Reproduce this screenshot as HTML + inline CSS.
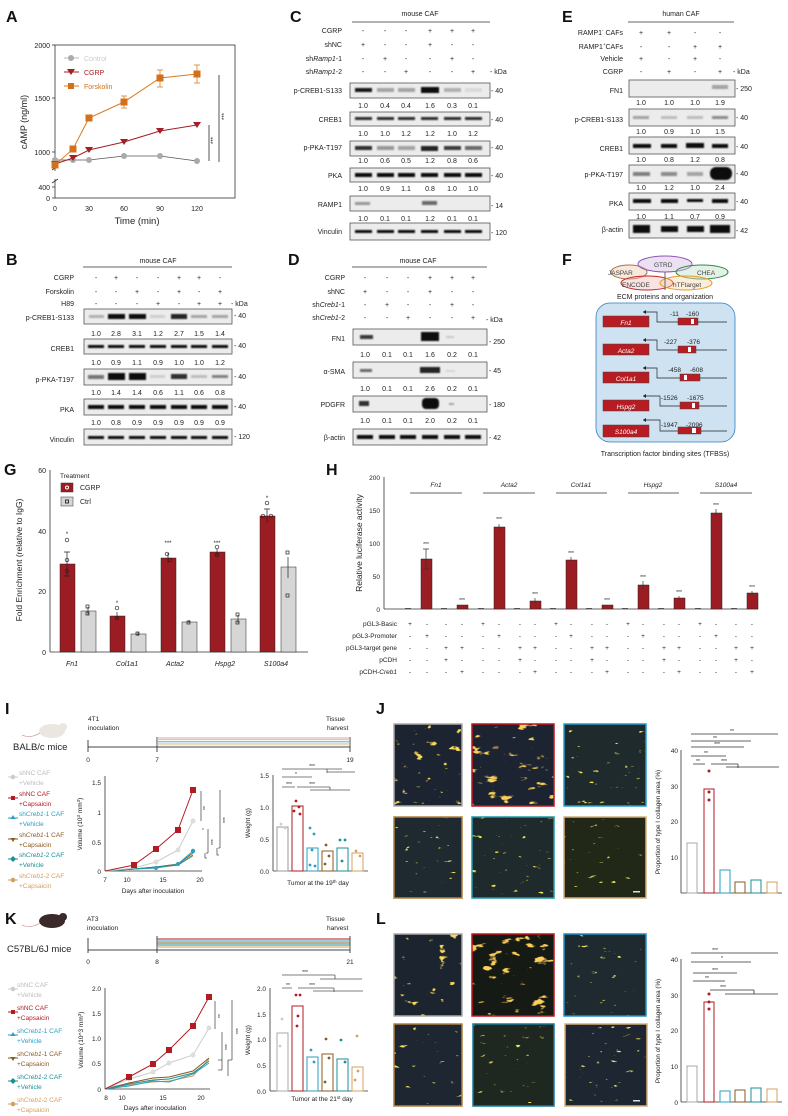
<!DOCTYPE html>
<html><head><meta charset="utf-8"><style>
html,body{margin:0;padding:0;background:#fff}
svg{display:block;font-family:"Liberation Sans",sans-serif}
</style></head><body>
<svg width="788" height="1116" viewBox="0 0 788 1116" xmlns="http://www.w3.org/2000/svg" font-size="7" fill="#222">
<defs>
<filter id="bl" x="-20%" y="-50%" width="140%" height="200%"><feGaussianBlur stdDeviation="0.9"/></filter>
<filter id="fs" x="0" y="0" width="100%" height="100%"><feTurbulence type="fractalNoise" baseFrequency="0.06 0.14" numOctaves="3" seed="4"/><feColorMatrix type="matrix" values="0 0 0 0 1  0 0 0 0 0.62  0 0 0 0 0.1  12 0 0 0 -7.8"/></filter>
<filter id="fm" x="0" y="0" width="100%" height="100%"><feTurbulence type="fractalNoise" baseFrequency="0.08 0.15" numOctaves="3" seed="9"/><feColorMatrix type="matrix" values="0 0 0 0 0.95  0 0 0 0 0.7  0 0 0 0 0.1  12 0 0 0 -8.3"/></filter>
<filter id="fw" x="0" y="0" width="100%" height="100%"><feTurbulence type="fractalNoise" baseFrequency="0.09 0.2" numOctaves="3" seed="2"/><feColorMatrix type="matrix" values="0 0 0 0 0.9  0 0 0 0 0.8  0 0 0 0 0.1  12 0 0 0 -8.9"/></filter>
</defs>
<g font-weight="bold" font-size="16" fill="#111">
<text x="6" y="22">A</text><text x="290" y="22">C</text><text x="562" y="22">E</text>
<text x="6" y="265">B</text><text x="288" y="265">D</text><text x="562" y="265">F</text>
<text x="4" y="475">G</text><text x="326" y="475">H</text>
<text x="5" y="714">I</text><text x="376" y="714">J</text>
<text x="5" y="924">K</text><text x="376" y="924">L</text>
</g>

<!-- Panel A -->
<g>
<rect x="55" y="45" width="180" height="153" fill="none" stroke="#333" stroke-width="0.8"/>
<g font-size="7" text-anchor="end"><text x="50" y="48">2000</text><text x="50" y="101">1500</text><text x="50" y="155">1000</text><text x="50" y="190">400</text><text x="50" y="201">0</text></g>
<g stroke="#333" stroke-width="0.8"><line x1="52" y1="45" x2="55" y2="45"/><line x1="52" y1="98" x2="55" y2="98"/><line x1="52" y1="152" x2="55" y2="152"/><line x1="52" y1="187" x2="55" y2="187"/><line x1="52" y1="198" x2="55" y2="198"/><line x1="52" y1="170" x2="58" y2="166"/><line x1="52" y1="183" x2="58" y2="179"/></g>
<rect x="53" y="171" width="4" height="8" fill="#fff"/>
<g font-size="7" text-anchor="middle"><text x="55" y="211">0</text><text x="89" y="211">30</text><text x="124" y="211">60</text><text x="160" y="211">90</text><text x="197" y="211">120</text></g>
<text x="137" y="224" font-size="9.5" text-anchor="middle">Time (min)</text>
<text x="27" y="122" font-size="9" text-anchor="middle" transform="rotate(-90 27 122)">cAMP (ng/ml)</text>
<polyline points="55,160 73,160 89,160 124,156 160,156 197,161" fill="none" stroke="#555" stroke-width="0.8"/>
<g fill="#aaa"><circle cx="55" cy="160" r="3"/><circle cx="73" cy="160" r="3"/><circle cx="89" cy="160" r="3"/><circle cx="124" cy="156" r="3"/><circle cx="160" cy="156" r="3"/><circle cx="197" cy="161" r="3"/></g>
<polyline points="55,164 73,158 89,150 124,142 160,131 197,125" fill="none" stroke="#a31f24" stroke-width="1"/>
<g fill="#a31f24"><path d="M51,161h8l-4,6z"/><path d="M69,155h8l-4,6z"/><path d="M85,147h8l-4,6z"/><path d="M120,139h8l-4,6z"/><path d="M156,128h8l-4,6z"/><path d="M193,122h8l-4,6z"/></g>
<polyline points="55,165 73,149 89,118 124,102 160,78 197,74" fill="none" stroke="#d97b1c" stroke-width="1"/>
<g stroke="#d97b1c" stroke-width="0.8"><line x1="124" y1="96" x2="124" y2="108"/><line x1="160" y1="70" x2="160" y2="87"/><line x1="197" y1="65" x2="197" y2="83"/><line x1="121" y1="96" x2="127" y2="96"/><line x1="121" y1="108" x2="127" y2="108"/><line x1="157" y1="70" x2="163" y2="70"/><line x1="157" y1="87" x2="163" y2="87"/><line x1="194" y1="65" x2="200" y2="65"/><line x1="194" y1="83" x2="200" y2="83"/></g>
<g fill="#d4701a"><rect x="51.5" y="161.5" width="7" height="7"/><rect x="69.5" y="145.5" width="7" height="7"/><rect x="85.5" y="114.5" width="7" height="7"/><rect x="120.5" y="98.5" width="7" height="7"/><rect x="156.5" y="74.5" width="7" height="7"/><rect x="193.5" y="70.5" width="7" height="7"/></g>
<line x1="64" y1="58" x2="79" y2="58" stroke="#bbb"/><circle cx="71" cy="58" r="3" fill="#aaa"/><text x="84" y="61" fill="#ccc">Control</text>
<line x1="64" y1="72" x2="79" y2="72" stroke="#a31f24"/><path d="M67,69h8l-4,6z" fill="#a31f24"/><text x="84" y="75" fill="#a31f24">CGRP</text>
<line x1="64" y1="86" x2="79" y2="86" stroke="#d97b1c"/><rect x="68" y="83" width="6" height="6" fill="#d4701a"/><text x="84" y="89" fill="#d4701a">Forskolin</text>
<line x1="209" y1="125" x2="209" y2="161" stroke="#555"/><line x1="219" y1="75" x2="219" y2="162" stroke="#555"/>
<text x="213" y="146" font-size="6" transform="rotate(-90 213 144)">***</text><text x="224" y="122" font-size="6" transform="rotate(-90 224 120)">***</text>
</g>

<!-- Panel C -->
<g>
<text x="420" y="16" text-anchor="middle">mouse CAF</text><line x1="352" y1="22" x2="490" y2="22" stroke="#333" stroke-width="0.7"/>
<g text-anchor="end"><text x="342" y="33">CGRP</text><text x="342" y="47">shNC</text><text x="342" y="61">sh<tspan font-style="italic">Ramp1</tspan>-1</text><text x="342" y="74">sh<tspan font-style="italic">Ramp1</tspan>-2</text>
<text x="342" y="93">p-CREB1-S133</text><text x="342" y="122">CREB1</text><text x="342" y="150">p-PKA-T197</text><text x="342" y="178">PKA</text><text x="342" y="207">RAMP1</text><text x="342" y="234">Vinculin</text></g>
<g text-anchor="middle">
<text x="363" y="33">-</text><text x="385" y="33">-</text><text x="406" y="33">-</text><text x="430" y="33">+</text><text x="452" y="33">+</text><text x="473" y="33">+</text>
<text x="363" y="47">+</text><text x="385" y="47">-</text><text x="406" y="47">-</text><text x="430" y="47">+</text><text x="452" y="47">-</text><text x="473" y="47">-</text>
<text x="363" y="61">-</text><text x="385" y="61">+</text><text x="406" y="61">-</text><text x="430" y="61">-</text><text x="452" y="61">+</text><text x="473" y="61">-</text>
<text x="363" y="74">-</text><text x="385" y="74">-</text><text x="406" y="74">+</text><text x="430" y="74">-</text><text x="452" y="74">-</text><text x="473" y="74">+</text>
<text x="363" y="108">1.0</text><text x="385" y="108">0.4</text><text x="406" y="108">0.4</text><text x="430" y="108">1.6</text><text x="452" y="108">0.3</text><text x="473" y="108">0.1</text>
<text x="363" y="136">1.0</text><text x="385" y="136">1.0</text><text x="406" y="136">1.2</text><text x="430" y="136">1.2</text><text x="452" y="136">1.0</text><text x="473" y="136">1.2</text>
<text x="363" y="163">1.0</text><text x="385" y="163">0.6</text><text x="406" y="163">0.5</text><text x="430" y="163">1.2</text><text x="452" y="163">0.8</text><text x="473" y="163">0.6</text>
<text x="363" y="191">1.0</text><text x="385" y="191">0.9</text><text x="406" y="191">1.1</text><text x="430" y="191">0.8</text><text x="452" y="191">1.0</text><text x="473" y="191">1.0</text>
<text x="363" y="221">1.0</text><text x="385" y="221">0.1</text><text x="406" y="221">0.1</text><text x="430" y="221">1.2</text><text x="452" y="221">0.1</text><text x="473" y="221">0.1</text>
</g>
<g><text x="490" y="74">- kDa</text><text x="491" y="93">- 40</text><text x="491" y="122">- 40</text><text x="491" y="150">- 40</text><text x="491" y="178">- 40</text><text x="491" y="208">- 14</text><text x="491" y="235">- 120</text></g>
<g fill="#ececec" stroke="#555" stroke-width="0.8"><rect x="350" y="83" width="140" height="15"/><rect x="350" y="112" width="140" height="14"/><rect x="350" y="141" width="140" height="15"/><rect x="350" y="168" width="140" height="14"/><rect x="350" y="196" width="140" height="15"/><rect x="350" y="223" width="140" height="17"/></g>
<g fill="#111" filter="url(#bl)">
<rect x="355" y="88" width="17" height="4" opacity=".95"/><rect x="377" y="88" width="17" height="4" opacity=".3"/><rect x="398" y="88" width="17" height="4" opacity=".3"/><rect x="421" y="87" width="18" height="6" opacity="1"/><rect x="444" y="88" width="17" height="4" opacity=".25"/><rect x="465" y="88" width="17" height="4" opacity=".08"/>
<rect x="355" y="117" width="17" height="3" opacity=".85"/><rect x="377" y="117" width="17" height="3" opacity=".85"/><rect x="398" y="117" width="17" height="3" opacity=".85"/><rect x="421" y="117" width="17" height="3" opacity=".85"/><rect x="444" y="117" width="17" height="3" opacity=".85"/><rect x="465" y="117" width="17" height="3" opacity=".85"/>
<rect x="355" y="146" width="17" height="4" opacity=".85"/><rect x="377" y="146" width="17" height="4" opacity=".4"/><rect x="398" y="146" width="17" height="4" opacity=".35"/><rect x="421" y="146" width="17" height="5" opacity=".9"/><rect x="444" y="146" width="17" height="4" opacity=".8"/><rect x="465" y="146" width="17" height="4" opacity=".6"/>
<rect x="355" y="173" width="17" height="4"/><rect x="377" y="173" width="17" height="4"/><rect x="398" y="173" width="17" height="4"/><rect x="421" y="173" width="17" height="4"/><rect x="444" y="173" width="17" height="4"/><rect x="465" y="173" width="17" height="4"/>
<rect x="355" y="202" width="15" height="3" opacity=".4"/><rect x="422" y="201" width="15" height="4" opacity=".6"/>
<rect x="355" y="230" width="17" height="3"/><rect x="377" y="230" width="17" height="3"/><rect x="398" y="230" width="17" height="3"/><rect x="421" y="230" width="17" height="3"/><rect x="444" y="230" width="17" height="3"/><rect x="465" y="230" width="17" height="3"/>
</g>
</g>

<!-- Panel E -->
<g>
<text x="681" y="16" text-anchor="middle">human CAF</text><line x1="628" y1="22" x2="734" y2="22" stroke="#333" stroke-width="0.7"/>
<g text-anchor="end"><text x="623" y="35">RAMP1<tspan font-size="4.5" dy="-3">-</tspan><tspan dy="3"> CAFs</tspan></text><text x="623" y="49">RAMP1<tspan font-size="4.5" dy="-3">+</tspan><tspan dy="3">CAFs</tspan></text><text x="623" y="61">Vehicle</text><text x="623" y="74">CGRP</text>
<text x="623" y="93">FN1</text><text x="623" y="122">p-CREB1-S133</text><text x="623" y="151">CREB1</text><text x="623" y="177">p-PKA-T197</text><text x="623" y="206">PKA</text><text x="623" y="232">β-actin</text></g>
<g text-anchor="middle">
<text x="641" y="35">+</text><text x="669" y="35">+</text><text x="695" y="35">-</text><text x="720" y="35">-</text>
<text x="641" y="49">-</text><text x="669" y="49">-</text><text x="695" y="49">+</text><text x="720" y="49">+</text>
<text x="641" y="61">+</text><text x="669" y="61">-</text><text x="695" y="61">+</text><text x="720" y="61">-</text>
<text x="641" y="74">-</text><text x="669" y="74">+</text><text x="695" y="74">-</text><text x="720" y="74">+</text>
<text x="641" y="105">1.0</text><text x="669" y="105">1.0</text><text x="695" y="105">1.0</text><text x="720" y="105">1.9</text>
<text x="641" y="134">1.0</text><text x="669" y="134">0.9</text><text x="695" y="134">1.0</text><text x="720" y="134">1.5</text>
<text x="641" y="162">1.0</text><text x="669" y="162">0.8</text><text x="695" y="162">1.2</text><text x="720" y="162">0.8</text>
<text x="641" y="190">1.0</text><text x="669" y="190">1.2</text><text x="695" y="190">1.0</text><text x="720" y="190">2.4</text>
<text x="641" y="219">1.0</text><text x="669" y="219">1.1</text><text x="695" y="219">0.7</text><text x="720" y="219">0.9</text>
</g>
<g><text x="733" y="74">- kDa</text><text x="736" y="91">- 250</text><text x="736" y="120">- 40</text><text x="736" y="149">- 40</text><text x="736" y="176">- 40</text><text x="736" y="204">- 40</text><text x="736" y="233">- 42</text></g>
<g fill="#ececec" stroke="#555" stroke-width="0.8"><rect x="629" y="80" width="106" height="17"/><rect x="629" y="109" width="106" height="17"/><rect x="629" y="137" width="106" height="17"/><rect x="629" y="165" width="106" height="18"/><rect x="629" y="193" width="106" height="17"/><rect x="629" y="220" width="106" height="18"/></g>
<g fill="#111" filter="url(#bl)">
<rect x="712" y="85" width="16" height="4" opacity=".3"/>
<rect x="633" y="116" width="16" height="3" opacity=".35"/><rect x="661" y="116" width="16" height="3" opacity=".2"/><rect x="687" y="116" width="16" height="3" opacity=".2"/><rect x="712" y="116" width="16" height="3" opacity=".45"/>
<rect x="633" y="144" width="18" height="4"/><rect x="661" y="144" width="16" height="4"/><rect x="686" y="143" width="18" height="5"/><rect x="712" y="144" width="16" height="4"/>
<rect x="633" y="172" width="17" height="4" opacity=".5"/><rect x="661" y="172" width="16" height="4" opacity=".45"/><rect x="687" y="172" width="16" height="4" opacity=".3"/><rect x="710" y="167" width="22" height="13" rx="6" opacity="1"/>
<rect x="633" y="199" width="18" height="4"/><rect x="661" y="199" width="17" height="4"/><rect x="687" y="199" width="16" height="3"/><rect x="712" y="199" width="16" height="4"/>
<rect x="633" y="225" width="17" height="8"/><rect x="661" y="226" width="17" height="6"/><rect x="687" y="226" width="17" height="6"/><rect x="710" y="225" width="20" height="8"/>
</g>
</g>

<!-- Panel B -->
<g>
<text x="158" y="263" text-anchor="middle">mouse CAF</text><line x1="83" y1="267" x2="232" y2="267" stroke="#333" stroke-width="0.7"/>
<g text-anchor="end"><text x="74" y="280">CGRP</text><text x="74" y="294">Forskolin</text><text x="74" y="306">H89</text>
<text x="74" y="320">p-CREB1-S133</text><text x="74" y="351">CREB1</text><text x="74" y="382">p-PKA-T197</text><text x="74" y="412">PKA</text><text x="74" y="442">Vinculin</text></g>
<g text-anchor="middle">
<text x="96" y="280">-</text><text x="116" y="280">+</text><text x="137" y="280">-</text><text x="158" y="280">-</text><text x="179" y="280">+</text><text x="199" y="280">+</text><text x="220" y="280">-</text>
<text x="96" y="294">-</text><text x="116" y="294">-</text><text x="137" y="294">+</text><text x="158" y="294">-</text><text x="179" y="294">+</text><text x="199" y="294">-</text><text x="220" y="294">+</text>
<text x="96" y="306">-</text><text x="116" y="306">-</text><text x="137" y="306">-</text><text x="158" y="306">+</text><text x="179" y="306">-</text><text x="199" y="306">+</text><text x="220" y="306">+</text>
<text x="96" y="336">1.0</text><text x="116" y="336">2.8</text><text x="137" y="336">3.1</text><text x="158" y="336">1.2</text><text x="179" y="336">2.7</text><text x="199" y="336">1.5</text><text x="220" y="336">1.4</text>
<text x="96" y="365">1.0</text><text x="116" y="365">0.9</text><text x="137" y="365">1.1</text><text x="158" y="365">0.9</text><text x="179" y="365">1.0</text><text x="199" y="365">1.0</text><text x="220" y="365">1.2</text>
<text x="96" y="395">1.0</text><text x="116" y="395">1.4</text><text x="137" y="395">1.4</text><text x="158" y="395">0.6</text><text x="179" y="395">1.1</text><text x="199" y="395">0.6</text><text x="220" y="395">0.8</text>
<text x="96" y="425">1.0</text><text x="116" y="425">0.8</text><text x="137" y="425">0.9</text><text x="158" y="425">0.9</text><text x="179" y="425">0.9</text><text x="199" y="425">0.9</text><text x="220" y="425">0.9</text>
</g>
<g><text x="231" y="306">- kDa</text><text x="234" y="318">- 40</text><text x="234" y="348">- 40</text><text x="234" y="379">- 40</text><text x="234" y="409">- 40</text><text x="234" y="439">- 120</text></g>
<g fill="#ececec" stroke="#555" stroke-width="0.8"><rect x="84" y="309" width="148" height="15"/><rect x="84" y="339" width="148" height="15"/><rect x="84" y="369" width="148" height="16"/><rect x="84" y="399" width="148" height="16"/><rect x="84" y="429" width="148" height="16"/></g>
<g fill="#111" filter="url(#bl)">
<rect x="89" y="315" width="15" height="3" opacity=".25"/><rect x="108" y="314" width="17" height="5"/><rect x="129" y="314" width="17" height="5"/><rect x="150" y="315" width="15" height="3" opacity=".12"/><rect x="171" y="314" width="16" height="5" opacity=".9"/><rect x="191" y="315" width="16" height="3" opacity=".3"/><rect x="212" y="315" width="16" height="3" opacity=".3"/>
<rect x="88" y="345" width="16" height="3"/><rect x="108" y="345" width="16" height="3"/><rect x="129" y="345" width="16" height="3"/><rect x="150" y="345" width="16" height="3"/><rect x="171" y="345" width="16" height="3"/><rect x="191" y="345" width="16" height="3"/><rect x="212" y="345" width="16" height="3"/>
<rect x="88" y="375" width="16" height="4" opacity=".55"/><rect x="108" y="373" width="17" height="7"/><rect x="129" y="373" width="17" height="7"/><rect x="150" y="375" width="15" height="3" opacity=".12"/><rect x="171" y="374" width="16" height="5" opacity=".85"/><rect x="191" y="375" width="16" height="3" opacity=".2"/><rect x="212" y="375" width="16" height="3" opacity=".5"/>
<rect x="88" y="405" width="16" height="4"/><rect x="108" y="405" width="16" height="4"/><rect x="129" y="405" width="16" height="4"/><rect x="150" y="405" width="16" height="4"/><rect x="171" y="405" width="16" height="4"/><rect x="191" y="405" width="16" height="4"/><rect x="212" y="405" width="16" height="4"/>
<rect x="88" y="436" width="16" height="3"/><rect x="108" y="436" width="16" height="3"/><rect x="129" y="436" width="16" height="3"/><rect x="150" y="436" width="16" height="3"/><rect x="171" y="436" width="16" height="3"/><rect x="191" y="436" width="16" height="3"/><rect x="212" y="436" width="16" height="3"/>
</g>
</g>

<!-- Panel D -->
<g>
<text x="418" y="263" text-anchor="middle">mouse CAF</text><line x1="352" y1="267" x2="487" y2="267" stroke="#333" stroke-width="0.7"/>
<g text-anchor="end"><text x="345" y="280">CGRP</text><text x="345" y="294">shNC</text><text x="345" y="307">sh<tspan font-style="italic">Creb1</tspan>-1</text><text x="345" y="320">sh<tspan font-style="italic">Creb1</tspan>-2</text>
<text x="345" y="341">FN1</text><text x="345" y="374">α-SMA</text><text x="345" y="407">PDGFR</text><text x="345" y="440">β-actin</text></g>
<g text-anchor="middle">
<text x="365" y="280">-</text><text x="387" y="280">-</text><text x="408" y="280">-</text><text x="430" y="280">+</text><text x="452" y="280">+</text><text x="473" y="280">+</text>
<text x="365" y="294">+</text><text x="387" y="294">-</text><text x="408" y="294">-</text><text x="430" y="294">+</text><text x="452" y="294">-</text><text x="473" y="294">-</text>
<text x="365" y="307">-</text><text x="387" y="307">+</text><text x="408" y="307">-</text><text x="430" y="307">-</text><text x="452" y="307">+</text><text x="473" y="307">-</text>
<text x="365" y="320">-</text><text x="387" y="320">-</text><text x="408" y="320">+</text><text x="430" y="320">-</text><text x="452" y="320">-</text><text x="473" y="320">+</text>
<text x="365" y="357">1.0</text><text x="387" y="357">0.1</text><text x="408" y="357">0.1</text><text x="430" y="357">1.6</text><text x="452" y="357">0.2</text><text x="473" y="357">0.1</text>
<text x="365" y="391">1.0</text><text x="387" y="391">0.1</text><text x="408" y="391">0.1</text><text x="430" y="391">2.6</text><text x="452" y="391">0.2</text><text x="473" y="391">0.1</text>
<text x="365" y="423">1.0</text><text x="387" y="423">0.1</text><text x="408" y="423">0.1</text><text x="430" y="423">2.0</text><text x="452" y="423">0.2</text><text x="473" y="423">0.1</text>
</g>
<g><text x="486" y="322">- kDa</text><text x="489" y="344">- 250</text><text x="489" y="373">- 45</text><text x="489" y="407">- 180</text><text x="489" y="440">- 42</text></g>
<g fill="#ececec" stroke="#555" stroke-width="0.8"><rect x="353" y="329" width="134" height="16"/><rect x="353" y="362" width="134" height="16"/><rect x="353" y="396" width="134" height="16"/><rect x="353" y="429" width="134" height="16"/></g>
<g fill="#111" filter="url(#bl)">
<rect x="360" y="335" width="13" height="4" opacity=".8"/><rect x="421" y="332" width="18" height="9"/><rect x="446" y="336" width="8" height="2" opacity=".15"/>
<rect x="360" y="369" width="12" height="3" opacity=".6"/><rect x="420" y="367" width="20" height="6" opacity=".9"/><rect x="446" y="370" width="9" height="2" opacity=".1"/>
<rect x="359" y="401" width="10" height="5" opacity=".85"/><rect x="422" y="398" width="17" height="11" rx="4"/><rect x="449" y="403" width="5" height="2" opacity=".3"/>
<rect x="357" y="435" width="16" height="4"/><rect x="379" y="435" width="16" height="4"/><rect x="400" y="435" width="16" height="4"/><rect x="422" y="435" width="16" height="4"/><rect x="444" y="435" width="16" height="4"/><rect x="465" y="435" width="16" height="4"/>
</g>
</g>

<!-- Panel F -->
<g>
<ellipse cx="629" cy="272" rx="18" ry="7" fill="#e8c9a8" fill-opacity=".4" stroke="#a9744a" stroke-width="1"/>
<ellipse cx="665" cy="264" rx="27" ry="8" fill="#cdb5e0" fill-opacity=".4" stroke="#8e56b5" stroke-width="1"/>
<ellipse cx="702" cy="272" rx="26" ry="7" fill="#bcdcc4" fill-opacity=".4" stroke="#2f8a4b" stroke-width="1"/>
<ellipse cx="647" cy="283" rx="26" ry="7" fill="#efb6b6" fill-opacity=".4" stroke="#c5272a" stroke-width="1"/>
<ellipse cx="686" cy="283" rx="26" ry="7" fill="#f6d4a6" fill-opacity=".4" stroke="#e99a25" stroke-width="1"/>
<g font-size="6.5" fill="#444"><text x="654" y="267">GTRD</text><text x="608" y="275">JASPAR</text><text x="697" y="275">CHEA</text><text x="622" y="287">ENCODE</text><text x="673" y="287">hTFtarget</text></g>
<line x1="665" y1="272" x2="665" y2="290" stroke="#666"/>
<text x="665" y="299" text-anchor="middle" font-size="7">ECM proteins and organization</text>
<rect x="596" y="303" width="139" height="139" rx="14" fill="#cfe2f1" stroke="#2f7fc1" stroke-width="0.8"/>
<g font-size="6.5">
<g><rect x="603" y="316" width="46" height="11" fill="#b81c22" stroke="#444" stroke-width=".5"/><text x="626" y="325" text-anchor="middle" fill="#fff" font-style="italic">Fn1</text><polyline points="643,312 657,312 657,322 727,322" fill="none" stroke="#222" stroke-width=".7"/><path d="M643,312l3,-2v4z" fill="#222"/><rect x="678" y="318" width="20" height="7" fill="#b81c22" stroke="#444" stroke-width=".5"/><rect x="691" y="319" width="3" height="5" fill="#fff"/><text x="670" y="316">-11</text><text x="686" y="316">-160</text></g>
<g><rect x="603" y="344" width="46" height="11" fill="#b81c22" stroke="#444" stroke-width=".5"/><text x="626" y="353" text-anchor="middle" fill="#fff" font-style="italic">Acta2</text><polyline points="643,340 657,340 657,350 727,350" fill="none" stroke="#222" stroke-width=".7"/><path d="M643,340l3,-2v4z" fill="#222"/><rect x="678" y="346" width="18" height="7" fill="#b81c22" stroke="#444" stroke-width=".5"/><rect x="688" y="347" width="3" height="5" fill="#fff"/><text x="664" y="344">-227</text><text x="687" y="344">-376</text></g>
<g><rect x="603" y="372" width="46" height="11" fill="#b81c22" stroke="#444" stroke-width=".5"/><text x="626" y="381" text-anchor="middle" fill="#fff" font-style="italic">Col1a1</text><polyline points="643,368 657,368 657,378 727,378" fill="none" stroke="#222" stroke-width=".7"/><path d="M643,368l3,-2v4z" fill="#222"/><rect x="680" y="374" width="20" height="7" fill="#b81c22" stroke="#444" stroke-width=".5"/><rect x="684" y="375" width="3" height="5" fill="#fff"/><text x="668" y="372">-458</text><text x="690" y="372">-608</text></g>
<g><rect x="603" y="400" width="46" height="11" fill="#b81c22" stroke="#444" stroke-width=".5"/><text x="626" y="409" text-anchor="middle" fill="#fff" font-style="italic">Hspg2</text><polyline points="643,396 660,396 660,406 727,406" fill="none" stroke="#222" stroke-width=".7"/><path d="M643,396l3,-2v4z" fill="#222"/><rect x="680" y="402" width="19" height="7" fill="#b81c22" stroke="#444" stroke-width=".5"/><rect x="692" y="403" width="3" height="5" fill="#fff"/><text x="661" y="400">-1526</text><text x="687" y="400">-1675</text></g>
<g><rect x="603" y="425" width="46" height="12" fill="#b81c22" stroke="#444" stroke-width=".5"/><text x="626" y="434" text-anchor="middle" fill="#fff" font-style="italic">S100a4</text><polyline points="643,420 660,420 660,431 727,431" fill="none" stroke="#222" stroke-width=".7"/><path d="M643,420l3,-2v4z" fill="#222"/><rect x="678" y="427" width="23" height="7" fill="#b81c22" stroke="#444" stroke-width=".5"/><rect x="692" y="428" width="4" height="5" fill="#fff"/><text x="661" y="427">-1947</text><text x="686" y="427">-2096</text></g>
</g>
<text x="665" y="456" text-anchor="middle" font-size="7">Transcription factor binding sites (TFBSs)</text>
</g>

<!-- Panel G -->
<g>
<line x1="50" y1="470" x2="50" y2="652" stroke="#333" stroke-width=".8"/><line x1="50" y1="652" x2="308" y2="652" stroke="#333" stroke-width=".8"/>
<g text-anchor="end"><text x="46" y="473">60</text><text x="46" y="534">40</text><text x="46" y="594">20</text><text x="46" y="655">0</text></g>
<text x="22" y="560" font-size="8.5" text-anchor="middle" transform="rotate(-90 22 560)">Fold Enrichment (relative to IgG)</text>
<text x="60" y="478" font-size="6.5">Treatment</text>
<rect x="61" y="483" width="12" height="9" fill="#9b1c22" stroke="#333" stroke-width=".5"/><circle cx="67" cy="487.5" r="1.5" fill="none" stroke="#fff"/><text x="80" y="490">CGRP</text>
<rect x="61" y="497" width="12" height="9" fill="#d6d6d6" stroke="#333" stroke-width=".5"/><rect x="65.5" y="500" width="3" height="3" fill="none" stroke="#333"/><text x="80" y="504">Ctrl</text>
<g stroke="#222" stroke-width=".5">
<rect x="60" y="564" width="15" height="88" fill="#9b1c22"/><rect x="81" y="611" width="15" height="41" fill="#d6d6d6"/>
<rect x="110" y="616" width="15" height="36" fill="#9b1c22"/><rect x="131" y="634" width="15" height="18" fill="#d6d6d6"/>
<rect x="161" y="558" width="15" height="94" fill="#9b1c22"/><rect x="182" y="622" width="15" height="30" fill="#d6d6d6"/>
<rect x="210" y="552" width="15" height="100" fill="#9b1c22"/><rect x="231" y="619" width="15" height="33" fill="#d6d6d6"/>
<rect x="260" y="516" width="15" height="136" fill="#9b1c22"/><rect x="281" y="567" width="15" height="85" fill="#d6d6d6"/>
</g>
<g stroke="#222" stroke-width=".7" fill="none">
<path d="M67,552v24M64,552h6M64,576h6M88,607v8M117,612v8M138,632v4M168,553v10M189,620v3M217,549v7M238,615v8M267,509v14M264,509h6M288,557v21"/>
<circle cx="67" cy="540" r="1.8"/><circle cx="67" cy="560" r="1.8"/><circle cx="67" cy="571" r="1.8"/><circle cx="117" cy="608" r="1.8"/><circle cx="117" cy="618" r="1.8"/><circle cx="167" cy="554" r="1.8"/><circle cx="170" cy="560" r="1.8"/><circle cx="217" cy="547" r="1.8"/><circle cx="217" cy="555" r="1.8"/><circle cx="267" cy="503" r="1.8"/><circle cx="263" cy="516" r="1.8"/><circle cx="271" cy="516" r="1.8"/>
<rect x="86" y="605" width="3" height="3"/><rect x="86" y="612" width="3" height="3"/><rect x="136" y="632" width="3" height="3"/><rect x="187" y="621" width="3" height="3"/><rect x="236" y="613" width="3" height="3"/><rect x="236" y="621" width="3" height="3"/><rect x="286" y="551" width="3" height="3"/><rect x="286" y="594" width="3" height="3"/>
</g>
<g font-size="6" text-anchor="middle"><text x="67" y="536">*</text><text x="117" y="605">*</text><text x="168" y="545">***</text><text x="217" y="545">***</text><text x="267" y="500">*</text></g>
<g font-style="italic" text-anchor="middle"><text x="72" y="666">Fn1</text><text x="127" y="666">Col1a1</text><text x="175" y="666">Acta2</text><text x="225" y="666">Hspg2</text><text x="276" y="666">S100a4</text></g>
</g>

<!-- Panel H -->
<g>
<line x1="384" y1="477" x2="384" y2="609" stroke="#333" stroke-width=".8"/><line x1="384" y1="609" x2="758" y2="609" stroke="#333" stroke-width=".8"/>
<g text-anchor="end" font-size="6.5"><text x="380" y="480">200</text><text x="380" y="513">150</text><text x="380" y="546">100</text><text x="380" y="579">50</text><text x="380" y="612">0</text></g>
<text x="362" y="543" font-size="8.5" text-anchor="middle" transform="rotate(-90 362 543)">Relative luciferase activity</text>
<g font-style="italic" text-anchor="middle" font-size="6.5"><text x="436" y="487">Fn1</text><text x="509" y="487">Acta2</text><text x="581" y="487">Col1a1</text><text x="653" y="487">Hspg2</text><text x="726" y="487">S100a4</text></g>
<g stroke="#333" stroke-width=".8"><line x1="410" y1="493" x2="462" y2="493"/><line x1="483" y1="493" x2="535" y2="493"/><line x1="556" y1="493" x2="607" y2="493"/><line x1="628" y1="493" x2="679" y2="493"/><line x1="700" y1="493" x2="752" y2="493"/></g>
<g fill="#9b1c22" stroke="#222" stroke-width=".5">
<rect x="421" y="559" width="11" height="50"/><rect x="457" y="605" width="11" height="4"/>
<rect x="494" y="527" width="11" height="82"/><rect x="530" y="601" width="11" height="8"/>
<rect x="566" y="560" width="11" height="49"/><rect x="602" y="605" width="11" height="4"/>
<rect x="638" y="585" width="11" height="24"/><rect x="674" y="598" width="11" height="11"/>
<rect x="711" y="513" width="11" height="96"/><rect x="747" y="593" width="11" height="16"/>
</g>
<g stroke="#333" stroke-width=".7"><path d="M426,549v20M423,549h6M423,569h6M499,524v6M535,598v5M571,557v5M643,581v8M679,596v4M716,509v7M752,591v4"/><path d="M405,608.5h6M441,608.5h6M478,608.5h6M514,608.5h6M550,608.5h6M586,608.5h6M622,608.5h6M658,608.5h6M695,608.5h6M731,608.5h6"/></g>
<g font-size="5" text-anchor="middle"><text x="426" y="546">***</text><text x="462" y="602">***</text><text x="499" y="521">***</text><text x="535" y="596">***</text><text x="571" y="555">***</text><text x="607" y="602">***</text><text x="643" y="579">***</text><text x="679" y="594">***</text><text x="716" y="507">***</text><text x="752" y="589">***</text></g>
<g font-size="6.5" text-anchor="end"><text x="397" y="626">pGL3-Basic</text><text x="397" y="638">pGL3-Promoter</text><text x="397" y="650">pGL3-target gene</text><text x="397" y="662">pCDH</text><text x="397" y="674">pCDH-<tspan font-style="italic">Creb1</tspan></text></g>
<g font-size="6.5" text-anchor="middle">
<text x="410" y="626">+</text><text x="427" y="626">-</text><text x="446" y="626">-</text><text x="462" y="626">-</text><text x="483" y="626">+</text><text x="499" y="626">-</text><text x="520" y="626">-</text><text x="535" y="626">-</text><text x="556" y="626">+</text><text x="571" y="626">-</text><text x="592" y="626">-</text><text x="607" y="626">-</text><text x="628" y="626">+</text><text x="643" y="626">-</text><text x="664" y="626">-</text><text x="679" y="626">-</text><text x="700" y="626">+</text><text x="716" y="626">-</text><text x="736" y="626">-</text><text x="752" y="626">-</text>
<text x="410" y="638">-</text><text x="427" y="638">+</text><text x="446" y="638">-</text><text x="462" y="638">-</text><text x="483" y="638">-</text><text x="499" y="638">+</text><text x="520" y="638">-</text><text x="535" y="638">-</text><text x="556" y="638">-</text><text x="571" y="638">+</text><text x="592" y="638">-</text><text x="607" y="638">-</text><text x="628" y="638">-</text><text x="643" y="638">+</text><text x="664" y="638">-</text><text x="679" y="638">-</text><text x="700" y="638">-</text><text x="716" y="638">+</text><text x="736" y="638">-</text><text x="752" y="638">-</text>
<text x="410" y="650">-</text><text x="427" y="650">-</text><text x="446" y="650">+</text><text x="462" y="650">+</text><text x="483" y="650">-</text><text x="499" y="650">-</text><text x="520" y="650">+</text><text x="535" y="650">+</text><text x="556" y="650">-</text><text x="571" y="650">-</text><text x="592" y="650">+</text><text x="607" y="650">+</text><text x="628" y="650">-</text><text x="643" y="650">-</text><text x="664" y="650">+</text><text x="679" y="650">+</text><text x="700" y="650">-</text><text x="716" y="650">-</text><text x="736" y="650">+</text><text x="752" y="650">+</text>
<text x="410" y="662">-</text><text x="427" y="662">-</text><text x="446" y="662">+</text><text x="462" y="662">-</text><text x="483" y="662">-</text><text x="499" y="662">-</text><text x="520" y="662">+</text><text x="535" y="662">-</text><text x="556" y="662">-</text><text x="571" y="662">-</text><text x="592" y="662">+</text><text x="607" y="662">-</text><text x="628" y="662">-</text><text x="643" y="662">-</text><text x="664" y="662">+</text><text x="679" y="662">-</text><text x="700" y="662">-</text><text x="716" y="662">-</text><text x="736" y="662">+</text><text x="752" y="662">-</text>
<text x="410" y="674">-</text><text x="427" y="674">-</text><text x="446" y="674">-</text><text x="462" y="674">+</text><text x="483" y="674">-</text><text x="499" y="674">-</text><text x="520" y="674">-</text><text x="535" y="674">+</text><text x="556" y="674">-</text><text x="571" y="674">-</text><text x="592" y="674">-</text><text x="607" y="674">+</text><text x="628" y="674">-</text><text x="643" y="674">-</text><text x="664" y="674">-</text><text x="679" y="674">+</text><text x="700" y="674">-</text><text x="716" y="674">-</text><text x="736" y="674">-</text><text x="752" y="674">+</text>
</g>
</g>

<!-- Panel I -->
<g>
<ellipse cx="52" cy="731" rx="13" ry="7" fill="#ece6e0"/><circle cx="63" cy="727" r="4" fill="#ece6e0"/><path d="M40,733 q-10,6 -18,2" fill="none" stroke="#d9a0a0" stroke-width=".8"/>
<text x="13" y="750" font-size="9.5">BALB/c mice</text>
<text x="88" y="721" font-size="6.5">4T1</text><text x="88" y="730" font-size="6.5">inoculation</text>
<text x="326" y="721" font-size="6.5">Tissue</text><text x="327" y="730" font-size="6.5">harvest</text>
<line x1="88" y1="747" x2="350" y2="747" stroke="#444" stroke-width=".9"/>
<g stroke="#333" stroke-width=".9"><line x1="88" y1="740" x2="88" y2="752"/><line x1="157" y1="737" x2="157" y2="752"/><line x1="350" y1="737" x2="350" y2="752"/></g>
<g stroke-width=".9"><line x1="157" y1="738" x2="350" y2="738" stroke="#d9a7a7"/><line x1="157" y1="739.7" x2="350" y2="739.7" stroke="#9dc7dc"/><line x1="157" y1="741.4" x2="350" y2="741.4" stroke="#c7a477"/><line x1="157" y1="743.1" x2="350" y2="743.1" stroke="#8fc6c4"/><line x1="157" y1="744.8" x2="350" y2="744.8" stroke="#e3c799"/></g>
<g font-size="6.5" text-anchor="middle"><text x="88" y="762">0</text><text x="157" y="762">7</text><text x="350" y="762">19</text></g>
<g font-size="6.5">
<line x1="8" y1="777" x2="18" y2="777" stroke="#ccc"/><circle cx="13" cy="777" r="2.3" fill="#ccc"/><text x="19" y="775" fill="#bbb">shNC CAF</text><text x="19" y="785" fill="#bbb">+Vehicle</text>
<line x1="8" y1="798" x2="18" y2="798" stroke="#b01c22"/><rect x="11" y="796" width="4" height="4" fill="#b01c22"/><text x="19" y="796" fill="#b01c22">shNC CAF</text><text x="19" y="806" fill="#b01c22">+Capsaicin</text>
<line x1="8" y1="818" x2="18" y2="818" stroke="#2a9fc3"/><path d="M13,815l2.5,4h-5z" fill="#2a9fc3"/><text x="19" y="816" fill="#2a9fc3">sh<tspan font-style="italic">Creb1</tspan>-1 CAF</text><text x="19" y="826" fill="#2a9fc3">+Vehicle</text>
<line x1="8" y1="839" x2="18" y2="839" stroke="#8b5a1e"/><path d="M13,842l2.5,-4h-5z" fill="#8b5a1e"/><text x="19" y="837" fill="#8b5a1e">sh<tspan font-style="italic">Creb1</tspan>-1 CAF</text><text x="19" y="847" fill="#8b5a1e">+Capsaicin</text>
<line x1="8" y1="859" x2="18" y2="859" stroke="#1a8f94"/><path d="M13,856l3,3l-3,3l-3,-3z" fill="#1a8f94"/><text x="19" y="857" fill="#1a8f94">sh<tspan font-style="italic">Creb1</tspan>-2 CAF</text><text x="19" y="867" fill="#1a8f94">+Vehicle</text>
<line x1="8" y1="880" x2="18" y2="880" stroke="#d4a05e"/><circle cx="13" cy="880" r="2.3" fill="#d4a05e"/><text x="19" y="878" fill="#d4a05e">sh<tspan font-style="italic">Creb1</tspan>-2 CAF</text><text x="19" y="888" fill="#d4a05e">+Capsaicin</text>
</g>
<line x1="105" y1="776" x2="105" y2="871" stroke="#333" stroke-width=".8"/><line x1="105" y1="871" x2="202" y2="871" stroke="#333" stroke-width=".8"/>
<g font-size="6.5" text-anchor="end"><text x="101" y="785">1.5</text><text x="101" y="815">1</text><text x="101" y="845">0.5</text><text x="101" y="874">0</text></g>
<g font-size="6.5" text-anchor="middle"><text x="105" y="882">7</text><text x="127" y="882">10</text><text x="163" y="882">15</text><text x="200" y="882">20</text></g>
<text x="153" y="893" font-size="6.5" text-anchor="middle">Days after inoculation</text>
<text x="82" y="824" font-size="6.5" text-anchor="middle" transform="rotate(-90 82 824)">Volume (10<tspan font-size="4.5" dy="-2">3</tspan><tspan dy="2"> mm</tspan><tspan font-size="4.5" dy="-2">3</tspan><tspan dy="2">)</tspan></text>
<polyline points="105,871 134,869 156,868 178,865 193,856" fill="none" stroke="#d4a05e"/>
<polyline points="105,871 134,869 156,867 178,864 193,853" fill="none" stroke="#8b5a1e"/>
<polyline points="105,871 134,869 156,868 178,864 193,851" fill="none" stroke="#2a9fc3"/>
<polyline points="105,871 134,869 156,867 178,865 193,855" fill="none" stroke="#1a8f94"/>
<polyline points="105,871 134,868 156,862 178,850 193,821" fill="none" stroke="#ccc"/>
<g fill="#ddd"><circle cx="156" cy="862" r="2.5"/><circle cx="178" cy="850" r="2.5"/><circle cx="193" cy="821" r="2.5"/></g>
<polyline points="105,871 134,865 156,849 178,830 193,790" fill="none" stroke="#b01c22"/>
<g fill="#b01c22"><rect x="131" y="862" width="6" height="6"/><rect x="153" y="846" width="6" height="6"/><rect x="175" y="827" width="6" height="6"/><rect x="190" y="787" width="6" height="6"/></g>
<g fill="#2a9fc3"><circle cx="156" cy="868" r="2"/><circle cx="178" cy="864" r="2"/><circle cx="193" cy="851" r="2.2"/></g>
<g stroke="#555" stroke-width=".8" fill="none"><path d="M201,791v30M208,829v24M206,853h2M205,853v5h2M220,790v58M218,848h2M217,848v7h2M204,829h-2"/></g>
<g font-size="5"><text x="203" y="810" transform="rotate(-90 205 808)">**</text><text x="211" y="845" transform="rotate(-90 213 843)">***</text><text x="223" y="823" transform="rotate(-90 225 821)">***</text></g>
<line x1="273" y1="775" x2="273" y2="871" stroke="#333" stroke-width=".8"/><line x1="273" y1="871" x2="368" y2="871" stroke="#333" stroke-width=".8"/>
<g font-size="6.5" text-anchor="end"><text x="269" y="778">1.5</text><text x="269" y="810">1.0</text><text x="269" y="842">0.5</text><text x="269" y="874">0.0</text></g>
<text x="250" y="823" font-size="6.5" text-anchor="middle" transform="rotate(-90 250 823)">Weight (g)</text>
<g fill="none" stroke-width="1"><rect x="277" y="827" width="11" height="44" stroke="#999"/><rect x="292" y="806" width="11" height="65" stroke="#b01c22"/><rect x="307" y="848" width="11" height="23" stroke="#2a9fc3"/><rect x="322" y="851" width="11" height="20" stroke="#8b5a1e"/><rect x="337" y="848" width="11" height="23" stroke="#1a8f94"/><rect x="352" y="853" width="11" height="18" stroke="#d4a05e"/></g>
<g><circle cx="281" cy="824" r="1.4" fill="#ccc"/><circle cx="285" cy="828" r="1.4" fill="#ccc"/><circle cx="296" cy="801" r="1.4" fill="#b01c22"/><circle cx="299" cy="807" r="1.4" fill="#b01c22"/><circle cx="294" cy="811" r="1.4" fill="#b01c22"/><circle cx="300" cy="814" r="1.4" fill="#b01c22"/><circle cx="310" cy="828" r="1.4" fill="#2a9fc3"/><circle cx="314" cy="834" r="1.4" fill="#2a9fc3"/><circle cx="312" cy="850" r="1.4" fill="#2a9fc3"/><circle cx="310" cy="865" r="1.4" fill="#2a9fc3"/><circle cx="315" cy="866" r="1.4" fill="#2a9fc3"/><circle cx="326" cy="845" r="1.4" fill="#8b5a1e"/><circle cx="329" cy="856" r="1.4" fill="#8b5a1e"/><circle cx="325" cy="864" r="1.4" fill="#8b5a1e"/><circle cx="340" cy="840" r="1.4" fill="#1a8f94"/><circle cx="345" cy="840" r="1.4" fill="#1a8f94"/><circle cx="342" cy="861" r="1.4" fill="#1a8f94"/><circle cx="356" cy="851" r="1.4" fill="#d4a05e"/><circle cx="360" cy="856" r="1.4" fill="#d4a05e"/></g>
<g stroke="#555" stroke-width=".8"><path d="M282,769h60M327,769v4M327,772h28M282,777h30M282,787h13M297,787h33M330,787v3M310,790h40"/></g>
<g font-size="5" text-anchor="middle"><text x="312" y="768">***</text><text x="296" y="776">*</text><text x="289" y="786">***</text><text x="312" y="786">***</text></g>
<text x="318" y="885" font-size="6.5" text-anchor="middle">Tumor  at the 19<tspan font-size="4.5" dy="-2">th</tspan><tspan dy="2"> day</tspan></text>
</g>

<!-- Panel J images + chart -->
<g>
<rect x="394" y="724" width="68" height="82" fill="#1b2430"/><rect x="394" y="724" width="68" height="82" filter="url(#fm)"/><rect x="394" y="724" width="68" height="82" fill="none" stroke="#aaa" stroke-width="1.5"/>
<rect x="472" y="724" width="82" height="82" fill="#1b2430"/><rect x="472" y="724" width="82" height="82" filter="url(#fs)"/><rect x="472" y="724" width="82" height="82" fill="none" stroke="#c0161c" stroke-width="1.5"/>
<rect x="564" y="724" width="82" height="82" fill="#1f2a2c"/><rect x="564" y="724" width="82" height="82" filter="url(#fw)"/><rect x="564" y="724" width="82" height="82" fill="none" stroke="#1e9fd0" stroke-width="1.5"/>
<rect x="394" y="817" width="68" height="81" fill="#1e2a30"/><rect x="394" y="817" width="68" height="81" filter="url(#fw)"/><rect x="394" y="817" width="68" height="81" fill="none" stroke="#b2803e" stroke-width="1.5"/>
<rect x="472" y="817" width="82" height="81" fill="#1f2a2c"/><rect x="472" y="817" width="82" height="81" filter="url(#fw)"/><rect x="472" y="817" width="82" height="81" fill="none" stroke="#1c9aab" stroke-width="1.5"/>
<rect x="564" y="817" width="82" height="81" fill="#222818"/><rect x="564" y="817" width="82" height="81" filter="url(#fw)"/><rect x="564" y="817" width="82" height="81" fill="none" stroke="#d6ae78" stroke-width="1.5"/>
<rect x="633" y="891" width="7" height="1.5" fill="#ddd"/>
<line x1="681" y1="750" x2="681" y2="893" stroke="#333" stroke-width=".8"/><line x1="681" y1="893" x2="782" y2="893" stroke="#333" stroke-width=".8"/>
<g font-size="6.5" text-anchor="end"><text x="678" y="753">40</text><text x="678" y="789">30</text><text x="678" y="824">20</text><text x="678" y="860">10</text></g>
<text x="660" y="822" font-size="6.3" text-anchor="middle" transform="rotate(-90 660 822)">Proportion of type I collagen area (%)</text>
<g fill="none" stroke-width="1"><rect x="687" y="843" width="10" height="50" stroke="#aaa"/><rect x="704" y="789" width="10" height="104" stroke="#b01c22"/><rect x="720" y="870" width="10" height="23" stroke="#2a9fc3"/><rect x="735" y="882" width="10" height="11" stroke="#8b5a1e"/><rect x="751" y="880" width="10" height="13" stroke="#1a8f94"/><rect x="767" y="882" width="10" height="11" stroke="#d4a05e"/></g>
<g fill="#b01c22"><circle cx="709" cy="771" r="1.5"/><circle cx="709" cy="792" r="1.5"/><circle cx="709" cy="800" r="1.5"/></g>
<g stroke="#333" stroke-width=".8"><path d="M691,734h87M691,741h60M691,747h53M691,756h35M693,764h12M711,764h27M738,764v4M726,767h53"/></g>
<g font-size="5" text-anchor="middle"><text x="732" y="733">**</text><text x="715" y="740">**</text><text x="717" y="746">***</text><text x="706" y="755">**</text><text x="698" y="763">**</text><text x="724" y="763">***</text></g>
</g>

<!-- Panel K -->
<g>
<ellipse cx="52" cy="921" rx="13" ry="7" fill="#3a2a2a"/><circle cx="63" cy="917" r="4" fill="#3a2a2a"/><path d="M40,923 q-10,6 -18,2" fill="none" stroke="#d9a0a0" stroke-width=".8"/>
<text x="7" y="952" font-size="9.5">C57BL/6J mice</text>
<text x="87" y="921" font-size="6.5">AT3</text><text x="87" y="930" font-size="6.5">inoculation</text>
<text x="326" y="921" font-size="6.5">Tissue</text><text x="327" y="930" font-size="6.5">harvest</text>
<line x1="88" y1="950" x2="350" y2="950" stroke="#444" stroke-width=".9"/>
<g stroke="#333" stroke-width=".9"><line x1="88" y1="938" x2="88" y2="953"/><line x1="157" y1="936" x2="157" y2="953"/><line x1="350" y1="936" x2="350" y2="953"/></g>
<g stroke-width=".9"><line x1="157" y1="939" x2="350" y2="939" stroke="#c0161c"/><line x1="157" y1="941" x2="350" y2="941" stroke="#2a9fc3"/><line x1="157" y1="943" x2="350" y2="943" stroke="#8b5a1e"/><line x1="157" y1="945" x2="350" y2="945" stroke="#1a8f94"/><line x1="157" y1="947" x2="350" y2="947" stroke="#d4a05e"/></g>
<g font-size="6.5" text-anchor="middle"><text x="88" y="964">0</text><text x="157" y="964">8</text><text x="350" y="964">21</text></g>
<g font-size="6.5">
<line x1="8" y1="989" x2="18" y2="989" stroke="#ccc"/><circle cx="13" cy="989" r="2.3" fill="#ccc"/><text x="17" y="987" fill="#bbb">shNC CAF</text><text x="17" y="997" fill="#bbb">+Vehicle</text>
<line x1="8" y1="1012" x2="18" y2="1012" stroke="#b01c22"/><rect x="11" y="1010" width="4" height="4" fill="#b01c22"/><text x="17" y="1010" fill="#b01c22">shNC CAF</text><text x="17" y="1020" fill="#b01c22">+Capsaicin</text>
<line x1="8" y1="1035" x2="18" y2="1035" stroke="#2a9fc3"/><path d="M13,1032l2.5,4h-5z" fill="#2a9fc3"/><text x="17" y="1033" fill="#2a9fc3">sh<tspan font-style="italic">Creb1</tspan>-1 CAF</text><text x="17" y="1043" fill="#2a9fc3">+Vehicle</text>
<line x1="8" y1="1058" x2="18" y2="1058" stroke="#8b5a1e"/><path d="M13,1061l2.5,-4h-5z" fill="#8b5a1e"/><text x="17" y="1056" fill="#8b5a1e">sh<tspan font-style="italic">Creb1</tspan>-1 CAF</text><text x="17" y="1066" fill="#8b5a1e">+Capsaicin</text>
<line x1="8" y1="1081" x2="18" y2="1081" stroke="#1a8f94"/><path d="M13,1078l3,3l-3,3l-3,-3z" fill="#1a8f94"/><text x="17" y="1079" fill="#1a8f94">sh<tspan font-style="italic">Creb1</tspan>-2 CAF</text><text x="17" y="1089" fill="#1a8f94">+Vehicle</text>
<line x1="8" y1="1104" x2="18" y2="1104" stroke="#d4a05e"/><circle cx="13" cy="1104" r="2.3" fill="#d4a05e"/><text x="17" y="1102" fill="#d4a05e">sh<tspan font-style="italic">Creb1</tspan>-2 CAF</text><text x="17" y="1112" fill="#d4a05e">+Capsaicin</text>
</g>
<line x1="105" y1="988" x2="105" y2="1089" stroke="#333" stroke-width=".8"/><line x1="105" y1="1089" x2="210" y2="1089" stroke="#333" stroke-width=".8"/>
<g font-size="6.5" text-anchor="end"><text x="101" y="991">2.0</text><text x="101" y="1016">1.5</text><text x="101" y="1041">1.0</text><text x="101" y="1066">0.5</text><text x="101" y="1092">0</text></g>
<g font-size="6.5" text-anchor="middle"><text x="106" y="1100">8</text><text x="122" y="1100">10</text><text x="163" y="1100">15</text><text x="201" y="1100">20</text></g>
<text x="155" y="1110" font-size="6.5" text-anchor="middle">Days after inoculation</text>
<text x="83" y="1040" font-size="6.5" text-anchor="middle" transform="rotate(-90 83 1040)">Volume (10^3 mm<tspan font-size="4.5" dy="-2">3</tspan><tspan dy="2">)</tspan></text>
<polyline points="105,1089 129,1085 153,1082 169,1081 193,1076 209,1059" fill="none" stroke="#d4a05e"/>
<polyline points="105,1089 129,1083 153,1078 169,1077 193,1071 209,1058" fill="none" stroke="#8b5a1e"/>
<polyline points="105,1089 129,1086 153,1081 169,1082 193,1074 209,1063" fill="none" stroke="#2a9fc3"/>
<polyline points="105,1089 129,1084 153,1080 169,1079 193,1073 209,1061" fill="none" stroke="#1a8f94"/>
<polyline points="105,1089 129,1079 153,1072 169,1063 193,1055 209,1028" fill="none" stroke="#ccc"/>
<g fill="#ddd"><circle cx="129" cy="1079" r="2.5"/><circle cx="153" cy="1072" r="2.5"/><circle cx="169" cy="1063" r="2.5"/><circle cx="193" cy="1055" r="2.5"/><circle cx="209" cy="1028" r="2.5"/></g>
<polyline points="105,1089 129,1077 153,1064 169,1050 193,1026 209,997" fill="none" stroke="#b01c22"/>
<g fill="#b01c22"><rect x="126" y="1074" width="6" height="6"/><rect x="150" y="1061" width="6" height="6"/><rect x="166" y="1047" width="6" height="6"/><rect x="190" y="1023" width="6" height="6"/><rect x="206" y="994" width="6" height="6"/></g>
<g stroke="#555" stroke-width=".8" fill="none"><path d="M215,1001v28M222,1032v38M218,1060h4M218,1070h4M232,1000v60M228,1060h4M228,1060v16"/></g>
<g font-size="5"><text x="218" y="1018" transform="rotate(-90 220 1016)">**</text><text x="225" y="1050" transform="rotate(-90 227 1048)">***</text><text x="236" y="1034" transform="rotate(-90 238 1032)">***</text></g>
<line x1="270" y1="988" x2="270" y2="1091" stroke="#333" stroke-width=".8"/><line x1="270" y1="1091" x2="368" y2="1091" stroke="#333" stroke-width=".8"/>
<g font-size="6.5" text-anchor="end"><text x="266" y="991">2.0</text><text x="266" y="1017">1.5</text><text x="266" y="1042">1.0</text><text x="266" y="1068">0.5</text><text x="266" y="1094">0.0</text></g>
<text x="250" y="1040" font-size="6.5" text-anchor="middle" transform="rotate(-90 250 1040)">Weight (g)</text>
<g fill="none" stroke-width="1"><rect x="277" y="1033" width="11" height="58" stroke="#aaa"/><rect x="292" y="1006" width="11" height="85" stroke="#b01c22"/><rect x="307" y="1057" width="11" height="34" stroke="#2a9fc3"/><rect x="322" y="1054" width="11" height="37" stroke="#8b5a1e"/><rect x="337" y="1059" width="11" height="32" stroke="#1a8f94"/><rect x="352" y="1067" width="11" height="24" stroke="#d4a05e"/></g>
<g><circle cx="282" cy="1019" r="1.4" fill="#ccc"/><circle cx="280" cy="1046" r="1.4" fill="#ccc"/><circle cx="296" cy="995" r="1.4" fill="#b01c22"/><circle cx="300" cy="995" r="1.4" fill="#b01c22"/><circle cx="298" cy="1016" r="1.4" fill="#b01c22"/><circle cx="297" cy="1026" r="1.4" fill="#b01c22"/><circle cx="311" cy="1050" r="1.4" fill="#2a9fc3"/><circle cx="314" cy="1062" r="1.4" fill="#2a9fc3"/><circle cx="326" cy="1039" r="1.4" fill="#8b5a1e"/><circle cx="329" cy="1058" r="1.4" fill="#8b5a1e"/><circle cx="325" cy="1082" r="1.4" fill="#8b5a1e"/><circle cx="341" cy="1040" r="1.4" fill="#1a8f94"/><circle cx="345" cy="1062" r="1.4" fill="#1a8f94"/><circle cx="357" cy="1036" r="1.4" fill="#d4a05e"/><circle cx="358" cy="1071" r="1.4" fill="#d4a05e"/><circle cx="355" cy="1080" r="1.4" fill="#d4a05e"/></g>
<g stroke="#555" stroke-width=".8"><path d="M282,975h53M335,975v4M320,979h42M282,988h10M298,988h36M334,988v4M313,991h50"/></g>
<g font-size="5" text-anchor="middle"><text x="305" y="974">***</text><text x="288" y="987">**</text><text x="312" y="987">***</text></g>
<text x="322" y="1101" font-size="6.5" text-anchor="middle">Tumor  at the 21<tspan font-size="4.5" dy="-2">st</tspan><tspan dy="2"> day</tspan></text>
</g>

<!-- Panel L -->
<g>
<rect x="394" y="934" width="68" height="82" fill="#1c2430"/><rect x="394" y="934" width="68" height="82" filter="url(#fm)"/><rect x="394" y="934" width="68" height="82" fill="none" stroke="#aaa" stroke-width="1.5"/>
<rect x="472" y="934" width="82" height="82" fill="#161a14"/><rect x="472" y="934" width="82" height="82" filter="url(#fs)"/><rect x="472" y="934" width="82" height="82" fill="none" stroke="#c0161c" stroke-width="1.5"/>
<rect x="564" y="934" width="82" height="82" fill="#1f2a30"/><rect x="564" y="934" width="82" height="82" filter="url(#fw)"/><rect x="564" y="934" width="82" height="82" fill="none" stroke="#1e8fc8" stroke-width="1.5"/>
<rect x="394" y="1024" width="68" height="82" fill="#1e2632"/><rect x="394" y="1024" width="68" height="82" filter="url(#fw)"/><rect x="394" y="1024" width="68" height="82" fill="none" stroke="#b2803e" stroke-width="1.5"/>
<rect x="473" y="1024" width="81" height="82" fill="#1f2820"/><rect x="473" y="1024" width="81" height="82" filter="url(#fw)"/><rect x="473" y="1024" width="81" height="82" fill="none" stroke="#157a9a" stroke-width="1.5"/>
<rect x="565" y="1024" width="82" height="82" fill="#1e2632"/><rect x="565" y="1024" width="82" height="82" filter="url(#fw)"/><rect x="565" y="1024" width="82" height="82" fill="none" stroke="#d6ae78" stroke-width="1.5"/>
<rect x="633" y="1100" width="7" height="1.5" fill="#ddd"/>
<line x1="681" y1="959" x2="681" y2="1102" stroke="#333" stroke-width=".8"/><line x1="681" y1="1102" x2="782" y2="1102" stroke="#333" stroke-width=".8"/>
<g font-size="6.5" text-anchor="end"><text x="678" y="962">40</text><text x="678" y="998">30</text><text x="678" y="1033">20</text><text x="678" y="1069">10</text><text x="678" y="1105">0</text></g>
<text x="660" y="1031" font-size="6.3" text-anchor="middle" transform="rotate(-90 660 1031)">Proportion of type I collagen area (%)</text>
<g fill="none" stroke-width="1"><rect x="687" y="1066" width="10" height="36" stroke="#aaa"/><rect x="704" y="1002" width="10" height="100" stroke="#b01c22"/><rect x="720" y="1091" width="10" height="11" stroke="#2a9fc3"/><rect x="735" y="1090" width="10" height="12" stroke="#8b5a1e"/><rect x="751" y="1088" width="10" height="14" stroke="#1a8f94"/><rect x="767" y="1089" width="10" height="13" stroke="#d4a05e"/></g>
<g fill="#b01c22"><circle cx="709" cy="994" r="1.5"/><circle cx="709" cy="1002" r="1.5"/><circle cx="709" cy="1009" r="1.5"/></g>
<g stroke="#333" stroke-width=".8"><path d="M691,953h87M691,962h60M693,973h44M693,981h32M710,990h44M754,990v4M725,994h53"/></g>
<g font-size="5" text-anchor="middle"><text x="715" y="952">***</text><text x="722" y="960">*</text><text x="715" y="972">***</text><text x="707" y="980">**</text><text x="723" y="989">***</text></g>
</g>
</svg>
</body></html>
